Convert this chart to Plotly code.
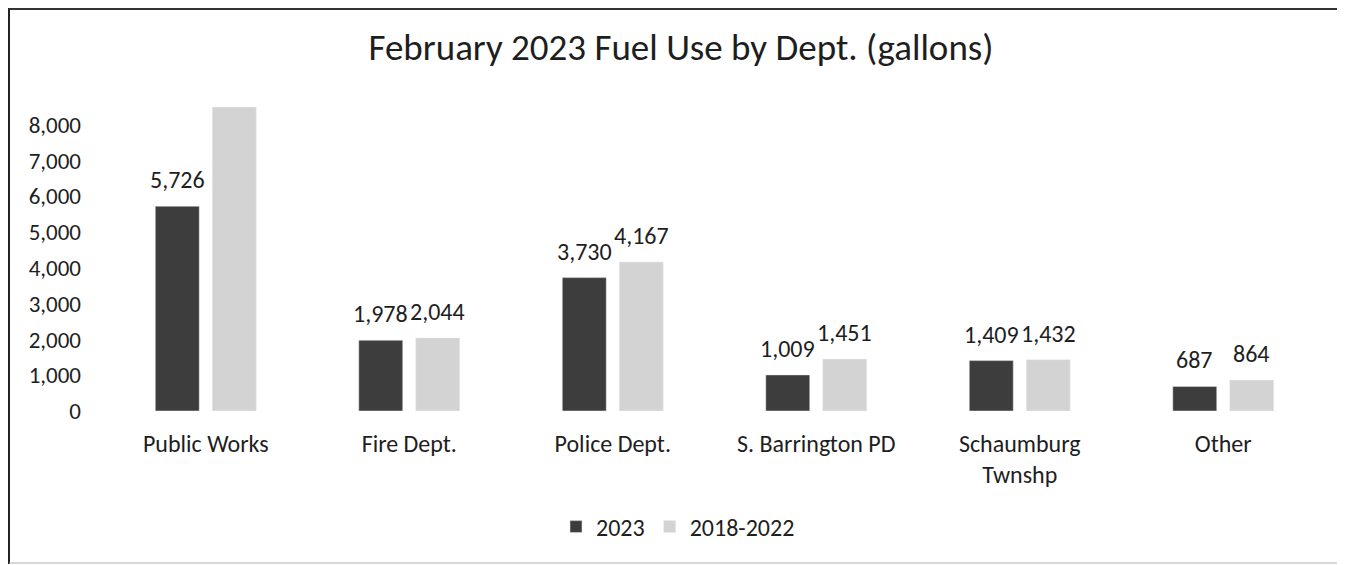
import plotly.graph_objects as go

# ---- data ----
categories = ["Public Works", "Fire Dept.", "Police Dept.", "S. Barrington PD",
              "Schaumburg<br>Twnshp", "Other"]
values_2023 = [5726, 1978, 3730, 1009, 1409, 687]
values_2018_2022 = [8500, 2044, 4167, 1451, 1432, 864]   # Public Works value runs off the top (label not visible)
show_label_2018_2022 = [False, True, True, True, True, True]
y_ticks = [0, 1000, 2000, 3000, 4000, 5000, 6000, 7000, 8000]
title_text = "February 2023 Fuel Use by Dept. (gallons)"

# ---- layout geometry ----
BODY = 8                      # default page body margin in the browser
W, H = 1345 - BODY, 565 - BODY
ML, MR, MT, MB = 96, 20, 99, 154
PW = W - ML - MR
PH = H - MT - MB

def pg_x(px):                 # page pixel -> paper x
    return (px - BODY - ML) / PW

def pg_y(py):                 # page pixel -> paper y
    return (H - MB - (py - BODY)) / PH

FONT = "Carlito, Lato, sans-serif"
TXT = "#1e1e1e"
DARK = "#3d3d3d"
LIGHT = "#d3d3d3"
LBL = 24

fig = go.Figure()
fig.add_trace(go.Bar(name="2023", x=categories, y=values_2023, marker_color=DARK))
fig.add_trace(go.Bar(name="2018-2022", x=categories, y=values_2018_2022, marker_color=LIGHT))

# data labels above each bar
annotations = []
for series, vals, shift, show in [
    ("2023", values_2023, -28.5, [True] * len(values_2023)),
    ("2018-2022", values_2018_2022, 28.5, show_label_2018_2022),
]:
    for cat, v, s in zip(categories, vals, show):
        if not s:
            continue
        annotations.append(dict(
            x=cat, y=v, xref="x", yref="y", text=f"{v:,}", showarrow=False,
            xanchor="center", yanchor="bottom", xshift=shift, yshift=10,
            font=dict(family=FONT, size=LBL, color=TXT),
        ))

fig.update_layout(
    width=W, height=H,
    margin=dict(l=ML, r=MR, t=MT, b=MB),
    paper_bgcolor="white", plot_bgcolor="white",
    barmode="group", bargap=0.44, bargroupgap=0.228,
    font=dict(family=FONT, size=LBL, color=TXT),
    title=dict(text=title_text, x=pg_x(681), xref="paper", xanchor="center",
               y=1 - (47 - BODY) / H, yanchor="middle",
               font=dict(family=FONT, size=37, color=TXT)),
    showlegend=True,
    legend=dict(orientation="h", x=pg_x(556), xanchor="left",
                y=pg_y(527), yanchor="middle",
                font=dict(family=FONT, size=LBL, color=TXT),
                traceorder="normal"),
    annotations=annotations,
)
fig.update_xaxes(showline=False, showgrid=False, ticks="", ticklabelstandoff=16,
                 tickfont=dict(family=FONT, size=LBL, color=TXT))
fig.update_yaxes(range=[0, 8500], tickvals=y_ticks, tickformat=",", showgrid=False,
                 showline=False, zeroline=False, ticks="", ticklabelstandoff=22,
                 tickfont=dict(family=FONT, size=23, color=TXT))

# chart frame
fig.add_shape(type="line", xref="paper", yref="paper",
              x0=pg_x(9), x1=pg_x(9), y0=pg_y(8), y1=pg_y(564),
              line=dict(color="#222222", width=2))
fig.add_shape(type="line", xref="paper", yref="paper",
              x0=pg_x(9), x1=pg_x(1343), y0=pg_y(9), y1=pg_y(9),
              line=dict(color="#333333", width=2))
fig.add_shape(type="line", xref="paper", yref="paper",
              x0=pg_x(1343), x1=pg_x(1343), y0=pg_y(9), y1=pg_y(564),
              line=dict(color="#b0b0b0", width=1))
fig.add_shape(type="line", xref="paper", yref="paper",
              x0=pg_x(9), x1=pg_x(1343), y0=pg_y(563), y1=pg_y(563),
              line=dict(color="#b0b0b0", width=1))

fig.write_html("out.html")
